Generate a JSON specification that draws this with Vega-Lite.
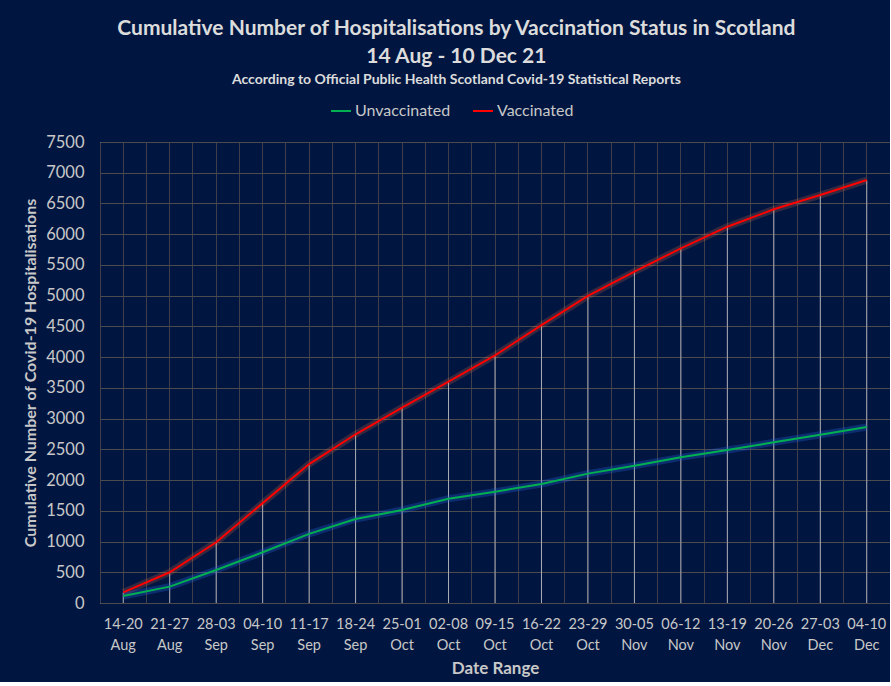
{
  "$schema": "https://vega.github.io/schema/vega-lite/v6.json",
  "width": 790,
  "height": 461,
  "padding": {"left": 22, "top": 18, "right": 0, "bottom": 5},
  "background": "#001641",
  "title": {
    "text": ["Cumulative Number of Hospitalisations by Vaccination Status in Scotland", "14 Aug - 10 Dec 21"],
    "subtitle": "According to Official Public Health Scotland Covid-19 Statistical Reports",
    "anchor": "middle",
    "frame": "bounds",
    "font": "Lato",
    "fontSize": 21,
    "fontWeight": "bold",
    "lineHeight": 28,
    "color": "#dcdcdc",
    "subtitleFont": "Lato",
    "subtitleFontSize": 14,
    "subtitleFontWeight": "bold",
    "subtitleColor": "#dcdcdc",
    "subtitlePadding": 6,
    "offset": 13
  },
  "datasets": {
    "rows": [
      {"week": "14-20 Aug", "status": "Unvaccinated", "value": 114},
      {"week": "21-27 Aug", "status": "Unvaccinated", "value": 266},
      {"week": "28-03 Sep", "status": "Unvaccinated", "value": 537},
      {"week": "04-10 Sep", "status": "Unvaccinated", "value": 825},
      {"week": "11-17 Sep", "status": "Unvaccinated", "value": 1125},
      {"week": "18-24 Sep", "status": "Unvaccinated", "value": 1366},
      {"week": "25-01 Oct", "status": "Unvaccinated", "value": 1513},
      {"week": "02-08 Oct", "status": "Unvaccinated", "value": 1697},
      {"week": "09-15 Oct", "status": "Unvaccinated", "value": 1811},
      {"week": "16-22 Oct", "status": "Unvaccinated", "value": 1936},
      {"week": "23-29 Oct", "status": "Unvaccinated", "value": 2105},
      {"week": "30-05 Nov", "status": "Unvaccinated", "value": 2234},
      {"week": "06-12 Nov", "status": "Unvaccinated", "value": 2370},
      {"week": "13-19 Nov", "status": "Unvaccinated", "value": 2489},
      {"week": "20-26 Nov", "status": "Unvaccinated", "value": 2614},
      {"week": "27-03 Dec", "status": "Unvaccinated", "value": 2738},
      {"week": "04-10 Dec", "status": "Unvaccinated", "value": 2863},
      {"week": "14-20 Aug", "status": "Vaccinated", "value": 172},
      {"week": "21-27 Aug", "status": "Vaccinated", "value": 500},
      {"week": "28-03 Sep", "status": "Vaccinated", "value": 988},
      {"week": "04-10 Sep", "status": "Vaccinated", "value": 1625},
      {"week": "11-17 Sep", "status": "Vaccinated", "value": 2260},
      {"week": "18-24 Sep", "status": "Vaccinated", "value": 2745},
      {"week": "25-01 Oct", "status": "Vaccinated", "value": 3180},
      {"week": "02-08 Oct", "status": "Vaccinated", "value": 3600},
      {"week": "09-15 Oct", "status": "Vaccinated", "value": 4030},
      {"week": "16-22 Oct", "status": "Vaccinated", "value": 4520},
      {"week": "23-29 Oct", "status": "Vaccinated", "value": 4995},
      {"week": "30-05 Nov", "status": "Vaccinated", "value": 5390},
      {"week": "06-12 Nov", "status": "Vaccinated", "value": 5770},
      {"week": "13-19 Nov", "status": "Vaccinated", "value": 6122},
      {"week": "20-26 Nov", "status": "Vaccinated", "value": 6405},
      {"week": "27-03 Dec", "status": "Vaccinated", "value": 6637},
      {"week": "04-10 Dec", "status": "Vaccinated", "value": 6881}
    ]
  },
  "data": {"name": "rows"},
  "encoding": {
    "x": {
      "field": "week",
      "type": "ordinal",
      "sort": null,
      "scale": {"paddingInner": 0, "paddingOuter": 0}
    },
    "y": {
      "field": "value",
      "type": "quantitative",
      "scale": {"domain": [0, 7500], "nice": false},
      "axis": {
        "values": [0, 500, 1000, 1500, 2000, 2500, 3000, 3500, 4000, 4500, 5000, 5500, 6000, 6500, 7000, 7500],
        "format": "d",
        "title": "Cumulative Number of Covid-19 Hospitalisations",
        "titleFont": "Lato",
        "titleFontSize": 16,
        "titleFontWeight": "bold",
        "titleColor": "#c8c8c8",
        "titlePadding": 7,
        "labelFont": "Lato",
        "labelFontSize": 16.5,
        "labelColor": "#c8c8c8",
        "labelPadding": 16,
        "ticks": false,
        "domain": false,
        "grid": true,
        "gridColor": "#4b4a4c",
        "gridWidth": 1
      }
    }
  },
  "resolve": {"axis": {"x": "independent"}},
  "layer": [
    {
      "mark": {"type": "rule", "color": "#a9abb5", "strokeWidth": 1},
      "transform": [{"filter": "datum.status === 'Vaccinated'"}],
      "encoding": {
        "x": {
          "field": "week",
          "type": "ordinal",
          "sort": null,
          "axis": {
            "title": "Date Range",
            "titleFont": "Lato",
            "titleFontSize": 17,
            "titleFontWeight": "bold",
            "titleColor": "#c8c8c8",
            "titlePadding": 9,
            "labelFont": "Lato",
            "labelFontSize": 14.5,
            "labelColor": "#c8c8c8",
            "labelAngle": 0,
            "labelPadding": 14,
            "labelLineHeight": 21,
            "labelExpr": "split(datum.value, ' ')",
            "ticks": false,
            "domain": false,
            "grid": true,
            "gridColor": "#3e3f4a",
            "gridWidth": 1
          }
        },
        "y2": {"datum": 0}
      }
    },
    {
      "mark": {"type": "line", "strokeWidth": 7, "opacity": 0.2, "color": "#ff7a40"},
      "transform": [{"filter": "datum.status === 'Vaccinated'"}],
      "encoding": {
        "x": {
          "field": "week",
          "type": "ordinal",
          "sort": null,
          "axis": {
            "title": null,
            "labels": false,
            "ticks": false,
            "domain": false,
            "grid": true,
            "bandPosition": 0,
            "gridColor": "#3e3f4a",
            "gridWidth": 1
          }
        }
      }
    },
    {
      "mark": {"type": "line", "strokeWidth": 7, "opacity": 0.3, "color": "#2a62e0"},
      "transform": [{"filter": "datum.status === 'Unvaccinated'"}],
      "encoding": {
        "x": {"field": "week", "type": "ordinal", "sort": null, "axis": null}
      }
    },
    {
      "mark": {"type": "line", "strokeWidth": 2},
      "encoding": {
        "x": {"field": "week", "type": "ordinal", "sort": null, "axis": null},
        "color": {
          "field": "status",
          "type": "nominal",
          "scale": {"domain": ["Unvaccinated", "Vaccinated"], "range": ["#00b050", "#ff0000"]},
          "legend": {
            "title": null,
            "orient": "none",
            "direction": "horizontal",
            "legendX": 230,
            "legendY": -42,
            "symbolType": "stroke",
            "symbolSize": 400,
            "symbolStrokeWidth": 2,
            "labelFont": "Lato",
            "labelFontSize": 16,
            "labelColor": "#c8c8c8",
            "labelOffset": 3,
            "columnPadding": 18
          }
        }
      }
    }
  ]
}
